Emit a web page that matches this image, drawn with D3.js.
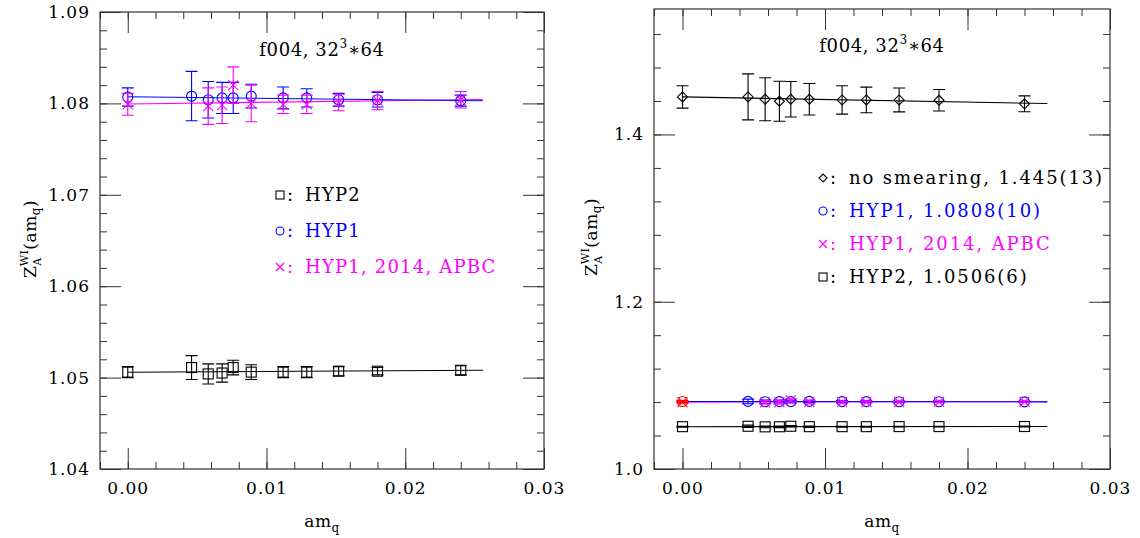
<!DOCTYPE html>
<html>
<head>
<meta charset="utf-8">
<script src="https://cdn.jsdelivr.net/npm/d3@7/dist/d3.min.js"></script>
<style>
  html, body { margin: 0; padding: 0; background: #fff; }
  svg { display: block; }
  text { font-family: 'DejaVu Serif', serif; }
</style>
</head>
<body>
<svg id="chart" width="1140" height="538"></svg>
<script>
// Z_A^WI(am_q) vs am_q, f004 ensemble, two panels (zoomed / full range)

// quark masses
const AMQ = [0, 0.0046, 0.0058, 0.0068, 0.0076, 0.0089, 0.0112, 0.0129, 0.0152, 0.0180, 0.0240];

// HYP1 (circles)
const HYP1_VAL = [1.0807, 1.0808, 1.0804, 1.0806, 1.0806, 1.0808, 1.0806, 1.0806, 1.0804, 1.0804, 1.0803];
const HYP1_ERR = [0.0010, 0.0027, 0.0020, 0.0017, 0.0017, 0.0013, 0.0012, 0.0010, 0.0007, 0.0008, 0.0006];

// HYP1, 2014, APBC (crosses) - no point at 0.0046
const APBC_AMQ = [0, 0.0058, 0.0068, 0.0076, 0.0089, 0.0112, 0.0129, 0.0152, 0.0180, 0.0240];
const APBC_VAL = [1.0799, 1.0797, 1.0798, 1.0820, 1.0800, 1.0799, 1.0799, 1.0801, 1.0803, 1.0804];
const APBC_ERR = [0.0012, 0.0020, 0.0020, 0.0020, 0.0020, 0.0010, 0.0010, 0.0009, 0.0010, 0.0009];

// HYP2 (squares)
const HYP2_VAL = [1.0506, 1.0511, 1.0504, 1.0505, 1.0511, 1.0506, 1.0506, 1.0506, 1.0507, 1.0507, 1.0508];
const HYP2_ERR = [0.0006, 0.0013, 0.0011, 0.0010, 0.0008, 0.0008, 0.0006, 0.0006, 0.0005, 0.0004, 0.0005];

// no smearing (diamonds), right panel only
const NOSM_VAL = [1.4449, 1.4449, 1.4421, 1.4397, 1.4421, 1.4421, 1.4413, 1.4413, 1.4413, 1.4409, 1.4366];
const NOSM_ERR = [0.0134, 0.0275, 0.0257, 0.0240, 0.0212, 0.0189, 0.0170, 0.0153, 0.0143, 0.0129, 0.0095];

// linear fits, end points at am_q = 0 and 0.0256
const FIT_X = [0, 0.0256];
const FIT_HYP1 = [1.08072, 1.08029];
const FIT_APBC = [1.07993, 1.08043];
const FIT_HYP2 = [1.05059, 1.05081];
const FIT_NOSM = [1.4449, 1.4370];

// axis ticks
const X_MAJOR = [0, 0.01, 0.02, 0.03];
const X_MINOR = d3.range(-1, 16).map(i => i * 0.002);
const YL_MAJOR = [1.04, 1.05, 1.06, 1.07, 1.08, 1.09];
const YL_MINOR = d3.range(0, 26).map(i => 1.04 + i * 0.002);
const YR_MAJOR = [1.0, 1.2, 1.4];
const YR_MINOR = d3.range(0, 14).map(i => 1.0 + i * 0.04);

const LEGEND_LEFT = [
  { sym: "square", color: "#000", label: "HYP2" },
  { sym: "circle", color: "#0000ff", label: "HYP1" },
  { sym: "cross",  color: "#ff00ff", label: "HYP1, 2014, APBC" },
];
const LEGEND_RIGHT = [
  { sym: "diamond", color: "#000", label: "no smearing, 1.445(13)" },
  { sym: "circle",  color: "#0000ff", label: "HYP1, 1.0808(10)" },
  { sym: "cross",   color: "#ff00ff", label: "HYP1, 2014, APBC" },
  { sym: "square",  color: "#000", label: "HYP2, 1.0506(6)" },
];

const BLUE = "#0000ff", MAG = "#ff00ff", RED = "#ff0000", BLK = "#000";
const FRAME = "#333";

const svg = d3.select("#chart");

const zip = (xs, vs, es) => xs.map((x, i) => ({ x, v: vs[i], e: es[i] }));

function marker(g, sym, cx, cy, color, h) {
  const s = g.append("g").attr("fill", "none").attr("stroke", color).attr("stroke-width", 1.1);
  if (sym === "circle") {
    s.append("circle").attr("cx", cx).attr("cy", cy).attr("r", h);
  } else if (sym === "square") {
    s.append("rect").attr("x", cx - h).attr("y", cy - h).attr("width", 2 * h).attr("height", 2 * h);
  } else if (sym === "cross") {
    s.append("path").attr("d", `M${cx - h},${cy - h}L${cx + h},${cy + h}M${cx - h},${cy + h}L${cx + h},${cy - h}`);
  } else if (sym === "diamond") {
    s.append("path").attr("d", `M${cx},${cy - h}L${cx + h},${cy}L${cx},${cy + h}L${cx - h},${cy}Z`);
  }
}

function series(g, x, y, pts, sym, color, zeroColor) {
  pts.forEach(p => {
    const c = (zeroColor && p.x === 0) ? zeroColor : color;
    const cx = x(p.x), cy = y(p.v);
    const yt = y(p.v + p.e), yb = y(p.v - p.e);
    g.append("path")
      .attr("d", `M${cx},${yt}L${cx},${yb}M${cx - 6},${yt}L${cx + 6},${yt}M${cx - 6},${yb}L${cx + 6},${yb}`)
      .attr("stroke", c).attr("stroke-width", 1.1).attr("fill", "none");
    marker(g, sym, cx, cy, c, 5);
  });
}

function fitLine(g, x, y, vals, color) {
  const line = d3.line().x(d => x(d[0])).y(d => y(d[1]));
  g.append("path").attr("d", line(FIT_X.map((fx, i) => [fx, vals[i]])))
    .attr("stroke", color).attr("stroke-width", 1.1).attr("fill", "none");
}

function styleAxis(sel) {
  sel.select(".domain").remove();
  sel.selectAll("line").attr("stroke", FRAME);
  sel.selectAll("text")
    .attr("fill", "#000")
    .style("font-family", "'DejaVu Serif', serif")
    .style("font-size", "17px")
    .style("letter-spacing", "1px");
}

function panel(p) {
  const x = d3.scaleLinear().domain([-0.002, 0.03]).range([p.x0, p.x1]);
  const y = d3.scaleLinear().domain(p.yDomain).range([p.y1, p.y0]);
  const g = svg.append("g");

  // minor ticks, all four sides
  const mk = (axis, tr) => g.append("g").attr("transform", tr).call(axis).call(styleAxis);
  mk(d3.axisBottom(x).tickValues(X_MINOR).tickSize(-7).tickFormat(""), `translate(0,${p.y1})`);
  mk(d3.axisTop(x).tickValues(X_MINOR).tickSize(-7).tickFormat(""), `translate(0,${p.y0})`);
  mk(d3.axisLeft(y).tickValues(p.yMinor).tickSize(-7).tickFormat(""), `translate(${p.x0},0)`);
  mk(d3.axisRight(y).tickValues(p.yMinor).tickSize(-7).tickFormat(""), `translate(${p.x1},0)`);
  // major ticks with labels
  mk(d3.axisBottom(x).tickValues(X_MAJOR).tickSize(-21).tickPadding(13).tickFormat(d3.format(".2f")), `translate(0,${p.y1})`);
  mk(d3.axisTop(x).tickValues(X_MAJOR).tickSize(-21).tickFormat(""), `translate(0,${p.y0})`);
  mk(d3.axisLeft(y).tickValues(p.yMajor).tickSize(-21).tickPadding(10).tickFormat(d3.format(p.yFmt)), `translate(${p.x0},0)`);
  mk(d3.axisRight(y).tickValues(p.yMajor).tickSize(-21).tickFormat(""), `translate(${p.x1},0)`);

  g.append("rect")
    .attr("x", p.x0).attr("y", p.y0)
    .attr("width", p.x1 - p.x0).attr("height", p.y1 - p.y0)
    .attr("fill", "none").attr("stroke", FRAME).attr("stroke-width", 1.2);

  // title
  const cx = (p.x0 + p.x1) / 2;
  const t = g.append("text").attr("x", cx).attr("y", p.titleY)
    .attr("text-anchor", "middle").style("font-size", "18px").style("letter-spacing", "0.6px");
  t.append("tspan").text("f004, 32");
  t.append("tspan").text("3").style("font-size", "12px").attr("dy", -8);
  t.append("tspan").text("\u221764").attr("dy", 8);

  // x title
  const xt = g.append("text").attr("x", cx).attr("y", 527)
    .attr("text-anchor", "middle").style("font-size", "17px").style("letter-spacing", "0.5px");
  xt.append("tspan").text("am");
  xt.append("tspan").text("q").style("font-size", "12px").attr("dy", 5);

  // y title
  const yt = g.append("text")
    .attr("transform", `translate(${p.yLabelX},${p.yLabelY}) rotate(-90)`)
    .attr("text-anchor", "middle").style("font-size", "17px").style("letter-spacing", "0.5px");
  yt.append("tspan").text("Z");
  yt.append("tspan").text("A").style("font-size", "11px").attr("dy", 5);
  yt.append("tspan").text("WI").style("font-size", "11px").attr("dx", -8.5).attr("dy", -13);
  yt.append("tspan").text("(am").attr("dy", 8);
  yt.append("tspan").text("q").style("font-size", "12px").attr("dy", 4);
  yt.append("tspan").text(")").attr("dy", -4);

  // data
  const d = g.append("g");
  p.draw(d, x, y);

  // legend
  p.legend.forEach((it, i) => {
    const by = p.legY + i * p.legDy;
    marker(g, it.sym, p.legSymX, by - 6, it.color, 4);
    g.append("text").attr("x", p.legSymX + 7).attr("y", by).attr("fill", it.color)
      .style("font-size", "18px").text(":");
    g.append("text").attr("x", p.legTextX).attr("y", by).attr("fill", it.color)
      .style("font-size", "18px").style("letter-spacing", p.legLs).text(it.label);
  });
}

panel({
  x0: 100, x1: 544, y0: 12, y1: 469,
  yDomain: [1.04, 1.09], yMajor: YL_MAJOR, yMinor: YL_MINOR, yFmt: ".2f",
  titleY: 56, yLabelX: 36, yLabelY: 239,
  legend: LEGEND_LEFT, legSymX: 280, legTextX: 305, legY: 201, legDy: 36, legLs: "1.2px",
  draw: (g, x, y) => {
    fitLine(g, x, y, FIT_HYP2, BLK);
    fitLine(g, x, y, FIT_APBC, MAG);
    fitLine(g, x, y, FIT_HYP1, BLUE);
    series(g, x, y, zip(AMQ, HYP2_VAL, HYP2_ERR), "square", BLK);
    series(g, x, y, zip(AMQ, HYP1_VAL, HYP1_ERR), "circle", BLUE);
    series(g, x, y, zip(APBC_AMQ, APBC_VAL, APBC_ERR), "cross", MAG);
  }
});

panel({
  x0: 654, x1: 1110, y0: 9, y1: 469,
  yDomain: [1.0, 1.55], yMajor: YR_MAJOR, yMinor: YR_MINOR, yFmt: ".1f",
  titleY: 52, yLabelX: 597, yLabelY: 237,
  legend: LEGEND_RIGHT, legSymX: 823, legTextX: 849, legY: 184, legDy: 33, legLs: "1.9px",
  draw: (g, x, y) => {
    fitLine(g, x, y, FIT_NOSM, BLK);
    fitLine(g, x, y, FIT_HYP2, BLK);
    fitLine(g, x, y, FIT_APBC, MAG);
    fitLine(g, x, y, FIT_HYP1, BLUE);
    series(g, x, y, zip(AMQ, NOSM_VAL, NOSM_ERR), "diamond", BLK);
    series(g, x, y, zip(AMQ, HYP2_VAL, HYP2_ERR), "square", BLK);
    series(g, x, y, zip(AMQ, HYP1_VAL, HYP1_ERR), "circle", BLUE, RED);
    series(g, x, y, zip(APBC_AMQ, APBC_VAL, APBC_ERR), "cross", MAG, RED);
  }
});
</script>
</body>
</html>
